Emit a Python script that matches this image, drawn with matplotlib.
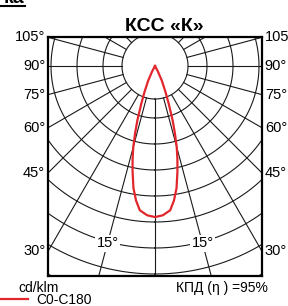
import numpy as np
import matplotlib.pyplot as plt
from matplotlib.lines import Line2D

plt.rcParams['font.family'] = ['Liberation Sans', 'DejaVu Sans']

# --- data (cd/klm, angle from nadir in degrees) ---
angles = [0, 3, 6, 8, 10, 12, 13.5, 15, 16.5, 18, 20, 22, 25, 28, 30]
intensity = [581, 575, 558, 523, 477, 415, 369, 323, 269, 219, 154, 108, 62, 23, 0]
ring_radii = [127, 200, 300, 400, 500, 600, 700, 800, 900]
spoke_angles = list(range(0, 360, 15))
side_labels = [30, 45, 60, 75, 90, 105]
inner_label_angles = [-15, 15]
curve_name = 'C0-C180'
unit_text = 'cd/klm'
eff_text = 'КПД (η ) =95%'
title_text = 'КСС «К»'


def to_xy(theta_deg, r):
    t = np.radians(theta_deg)
    return np.asarray(r) * np.sin(t), -np.asarray(r) * np.cos(t)


# symmetric curve C0-C180
theta = np.concatenate([-np.array(angles[::-1]), np.array(angles[1:])])
r = np.concatenate([np.array(intensity[::-1]), np.array(intensity[1:])])

fig = plt.figure(figsize=(2.88, 3.06), dpi=100)
ax = fig.add_axes([48 / 288, 30 / 306, 214 / 288, 239 / 306])

x_edge = 107 * 100 / 26
y_top = 29 * 100 / 26
y_bot = -210 * 100 / 26
ax.set_xlim(-x_edge, x_edge)
ax.set_ylim(y_bot, y_top)
ax.set_xticks([])
ax.set_yticks([])
for s in ax.spines.values():
    s.set_linewidth(1.6)
    s.set_color('black')

grid_kw = dict(color='#1a1a1a', lw=0.8, zorder=1)

# rings
tt = np.linspace(0, 360, 721)
for rr in ring_radii:
    gx, gy = to_xy(tt, rr)
    ax.plot(gx, gy, **grid_kw)

# spokes
for a in spoke_angles:
    sx, sy = to_xy(a, np.array([ring_radii[0], 1200]))
    ax.plot(sx, sy, **grid_kw)

# side angle labels
for a in side_labels:
    t = np.radians(a)
    y = -x_edge * np.cos(t) / np.sin(t)
    ax.annotate(f'{a}°', (-x_edge, y), xytext=(-2, 0), textcoords='offset points',
                ha='right', va='center', fontsize=10.5, annotation_clip=False)
    ax.annotate(f'{a}°', (x_edge, y), xytext=(2, 0), textcoords='offset points',
                ha='left', va='center', fontsize=10.5, annotation_clip=False)

# 15 deg labels inside
for a in inner_label_angles:
    lx, ly = to_xy(a, 705)
    ax.text(lx, ly, '15°', ha='center', va='center', fontsize=10.5, zorder=3,
            bbox=dict(fc='white', ec='none', pad=1.0))

# intensity curve
line, = ax.plot(*to_xy(theta, r), color='#e3262b', lw=1.6, zorder=5)

# title with underline
title = fig.text(164.5 / 288, 1 - 31 / 306, title_text, ha='center', va='baseline',
                 fontsize=14, fontweight='bold')
# clipped heading from above
head = fig.text(24 / 288, 1 - 3 / 306, 'ка', ha='right', va='baseline',
                fontsize=14, fontweight='bold')

fig.text(18 / 288, 1 - 292 / 306, unit_text, ha='left', va='baseline', fontsize=10)
fig.text(268 / 288, 1 - 292 / 306, eff_text, ha='right', va='baseline', fontsize=10,
         family=['Liberation Sans Narrow', 'Liberation Sans'])

fig.legend([line], [curve_name], loc='center left', bbox_to_anchor=(0, 1 - 300 / 306),
           frameon=False, fontsize=10, handlelength=2.0, handletextpad=0.6,
           borderpad=0, borderaxespad=0)

fig.canvas.draw()
bb = title.get_window_extent()
fig.add_artist(Line2D([bb.x0 / 288, bb.x1 / 288], [(bb.y0 - 2) / 306] * 2,
                      transform=fig.transFigure, color='black', lw=1.5))
fig.add_artist(Line2D([0, 25 / 288], [1 - 5.5 / 306] * 2,
                      transform=fig.transFigure, color='black', lw=1.5))

fig.savefig('out.png', dpi=100)
